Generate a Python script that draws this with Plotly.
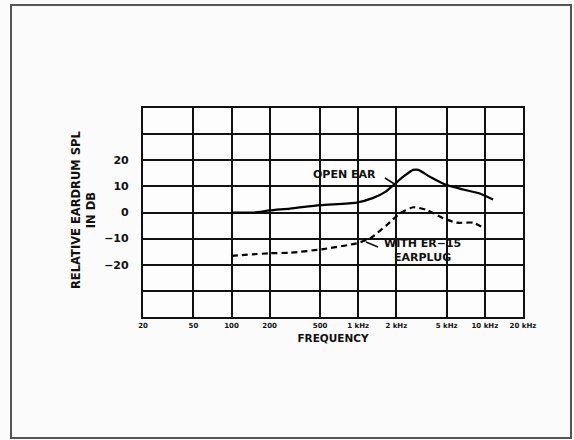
import plotly.graph_objects as go

# --- data ---
open_freq = [100, 150, 200, 290, 500, 970, 1300, 1650, 1900, 2270, 2720, 2980, 3680, 5000, 6750, 9100, 11600]
open_db = [0, 0, 0.8, 1.5, 2.8, 3.8, 5.5, 8.0, 10.5, 13.7, 16.3, 16.3, 13.7, 10.5, 8.8, 7.3, 5.0]

plug_freq = [100, 200, 290, 530, 970, 1240, 1680, 2140, 2720, 3470, 4690, 6000, 8100, 9600]
plug_db = [-16.6, -15.6, -15.4, -14.0, -11.8, -9.9, -4.8, -0.3, 2.0, 1.0, -2.2, -3.9, -3.9, -5.7]

x_tickvals = [20, 50, 100, 200, 500, 1000, 2000, 5000, 10000, 20000]
x_ticktext = ["20", "50", "100", "200", "500", "1 kHz", "2 kHz", "5 kHz", "10 kHz", "20 kHz"]
y_tickvals = [-30, -20, -10, 0, 10, 20, 30]
y_ticktext = ["", "−20", "−10", "0", "10", "20", ""]

FONT = "DejaVu Sans"

fig = go.Figure()
fig.add_trace(go.Scatter(x=open_freq, y=open_db, mode="lines",
                         line=dict(color="black", width=2.2, shape="spline", smoothing=0.6),
                         name="OPEN EAR", showlegend=False))
fig.add_trace(go.Scatter(x=plug_freq, y=plug_db, mode="lines",
                         line=dict(color="black", width=2.2, dash="6px,4px", shape="spline", smoothing=0.6),
                         name="WITH ER-15 EARPLUG", showlegend=False))

fig.update_layout(
    width=574, height=440,
    margin=dict(l=143, r=51, t=108, b=123),
    paper_bgcolor="#fbfbfb", plot_bgcolor="#fdfdfd",
    font=dict(family=FONT, color="#111", size=10, weight="bold"),
    xaxis=dict(type="log", range=[1.30103, 4.30103], tickvals=x_tickvals, ticktext=x_ticktext,
               showgrid=True, gridcolor="#111", gridwidth=2.2,
               showline=True, linecolor="#111", linewidth=2.2, mirror=True,
               ticks="", tickfont=dict(size=7, family=FONT, weight="bold"), zeroline=False,
               title=dict(text="FREQUENCY", font=dict(size=10.5, family=FONT, weight="bold"), standoff=6)),
    yaxis=dict(range=[-40, 40], tickvals=y_tickvals, ticktext=y_ticktext,
               showgrid=True, gridcolor="#111", gridwidth=2.2,
               showline=True, linecolor="#111", linewidth=2.2, mirror=True,
               ticks="", ticklabelstandoff=10, tickfont=dict(size=11, family=FONT, weight="bold"),
               zeroline=False),
)

# y-axis title (two lines, rotated)
fig.add_annotation(text="RELATIVE EARDRUM SPL<br>IN DB", xref="paper", yref="paper",
                   x=(83 - 143) / 380, y=(317 - 210) / 209, showarrow=False, textangle=-90,
                   font=dict(size=11.5, family=FONT, weight="bold"), xanchor="center", yanchor="middle")

# curve labels with leader lines (x in log10 units on the log axis)
fig.add_annotation(text="OPEN EAR", x=2.89, y=14.4, xref="x", yref="y", showarrow=False,
                   font=dict(size=11, family=FONT, weight="bold"), xanchor="center")
fig.add_annotation(text="WITH ER−15<br>EARPLUG", x=3.505, y=-14.6, xref="x", yref="y", showarrow=False,
                   font=dict(size=11, family=FONT, weight="bold"), xanchor="center", align="center")
fig.add_shape(type="line", xref="paper", yref="paper",
              x0=(385 - 143) / 380, y0=(317 - 178) / 209, x1=(396 - 143) / 380, y1=(317 - 185) / 209,
              line=dict(color="#111", width=1.5))
fig.add_shape(type="line", xref="paper", yref="paper",
              x0=(366 - 143) / 380, y0=(317 - 242) / 209, x1=(378 - 143) / 380, y1=(317 - 247) / 209,
              line=dict(color="#111", width=1.5))

# outer frame
fig.add_shape(type="rect", xref="paper", yref="paper",
              x0=(11 - 143) / 380, x1=(571 - 143) / 380, y0=(317 - 438) / 209, y1=(317 - 5) / 209,
              line=dict(color="#555", width=2))

fig.write_html("out.html")
